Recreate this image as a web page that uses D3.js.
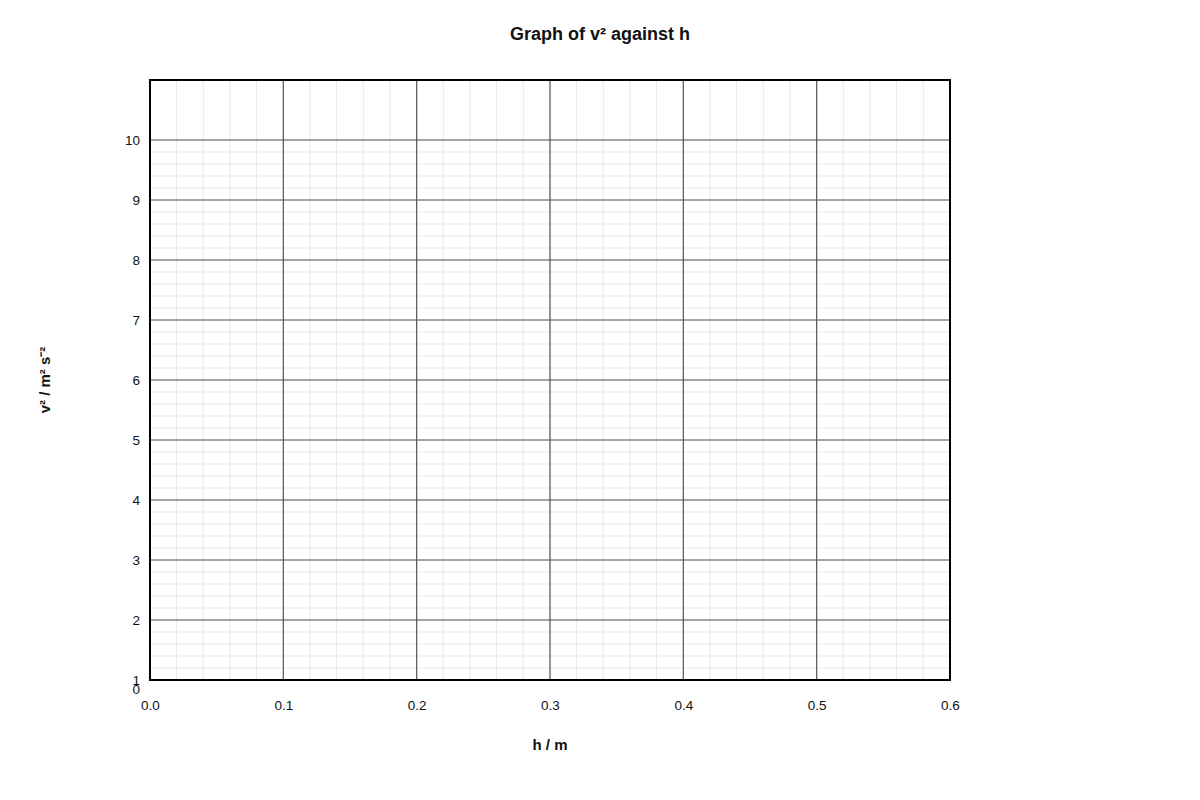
<!DOCTYPE html>
<html>
<head>
<meta charset="utf-8">
<script src="https://d3js.org/d3.v7.min.js"></script>
<style>
  body { margin: 0; background: #fff; font-family: "Liberation Sans", Arial, sans-serif; }
  .axis-title { font-size: 15px; font-weight: bold; fill: #111; }
</style>
</head>
<body>
<svg id="chart" width="1200" height="800"></svg>
<script>
// chart data
var xTicks = [0, 0.1, 0.2, 0.3, 0.4, 0.5, 0.6];
var yTicks = [1, 2, 3, 4, 5, 6, 7, 8, 9, 10];
var xDomain = [0, 0.6];
var yDomain = [1, 11];
var xMinorStep = 0.02;
var yMinorStep = 0.2;
var yMinorMax = 10;
var originLabel = "0";
var title = "Graph of v\u00b2 against h";
var xTitle = "h / m";
var yTitle = "v\u00b2 / m\u00b2 s\u207b\u00b2";

var svg = d3.select("#chart");
var m = { left: 150, top: 80, right: 250, bottom: 120 };
var width = 1200 - m.left - m.right,
    height = 800 - m.top - m.bottom;

var x = d3.scaleLinear().domain(xDomain).range([0, width]);
var y = d3.scaleLinear().domain(yDomain).range([height, 0]);

var g = svg.append("g").attr("transform", "translate(" + m.left + "," + m.top + ")");

// minor grid
var xMinor = d3.range(xDomain[0], xDomain[1] + 1e-9, xMinorStep);
var yMinor = d3.range(yDomain[0], yMinorMax + 1e-9, yMinorStep);

g.selectAll(".vminor").data(xMinor).enter().append("line")
  .attr("x1", function (d) { return x(d); }).attr("x2", function (d) { return x(d); })
  .attr("y1", 0).attr("y2", height)
  .attr("stroke", "#e8e8e8").attr("stroke-width", 1);

g.selectAll(".hminor").data(yMinor).enter().append("line")
  .attr("x1", 0).attr("x2", width)
  .attr("y1", function (d) { return y(d); }).attr("y2", function (d) { return y(d); })
  .attr("stroke", "#e8e8e8").attr("stroke-width", 1);

// major grid
g.selectAll(".vmajor").data(xTicks).enter().append("line")
  .attr("x1", function (d) { return x(d); }).attr("x2", function (d) { return x(d); })
  .attr("y1", 0).attr("y2", height)
  .attr("stroke", "#555").attr("stroke-width", 1.2);

g.selectAll(".hmajor").data(yTicks).enter().append("line")
  .attr("x1", 0).attr("x2", width)
  .attr("y1", function (d) { return y(d); }).attr("y2", function (d) { return y(d); })
  .attr("stroke", "#555").attr("stroke-width", 1.2);

// frame
g.append("rect")
  .attr("x", 0).attr("y", 0).attr("width", width).attr("height", height)
  .attr("fill", "none").attr("stroke", "#000").attr("stroke-width", 2);

// x tick labels
var xAxis = d3.axisBottom(x).tickValues(xTicks).tickFormat(d3.format(".1f")).tickSize(0).tickPadding(19);
var xg = g.append("g").attr("transform", "translate(0," + height + ")").call(xAxis);
xg.select(".domain").remove();
xg.attr("font-family", null).attr("font-size", null);
xg.selectAll("text").style("font-size", "13.5px").style("fill", "#111").attr("dy", "0.85em");

// y tick labels
var yAxis = d3.axisLeft(y).tickValues(yTicks).tickFormat(d3.format("d")).tickSize(0).tickPadding(10);
var yg = g.append("g").call(yAxis);
yg.select(".domain").remove();
yg.attr("font-family", null).attr("font-size", null);
yg.selectAll("text").style("font-size", "13.5px").style("fill", "#111");

// origin label
g.append("text")
  .attr("x", -10).attr("y", y(yDomain[0]) + 10)
  .attr("dy", "0.32em")
  .attr("text-anchor", "end")
  .style("font-size", "13.5px").style("fill", "#111")
  .text(originLabel);

// titles
svg.append("text")
  .attr("x", 600).attr("y", 40)
  .attr("text-anchor", "middle")
  .style("font-size", "18px").style("font-weight", "bold").style("fill", "#111")
  .text(title);

svg.append("text")
  .attr("class", "axis-title")
  .attr("x", m.left + width / 2).attr("y", 750)
  .attr("text-anchor", "middle")
  .text(xTitle);

svg.append("text")
  .attr("class", "axis-title")
  .attr("transform", "translate(50," + (m.top + height / 2) + ") rotate(-90)")
  .attr("text-anchor", "middle")
  .text(yTitle);
</script>
</body>
</html>
